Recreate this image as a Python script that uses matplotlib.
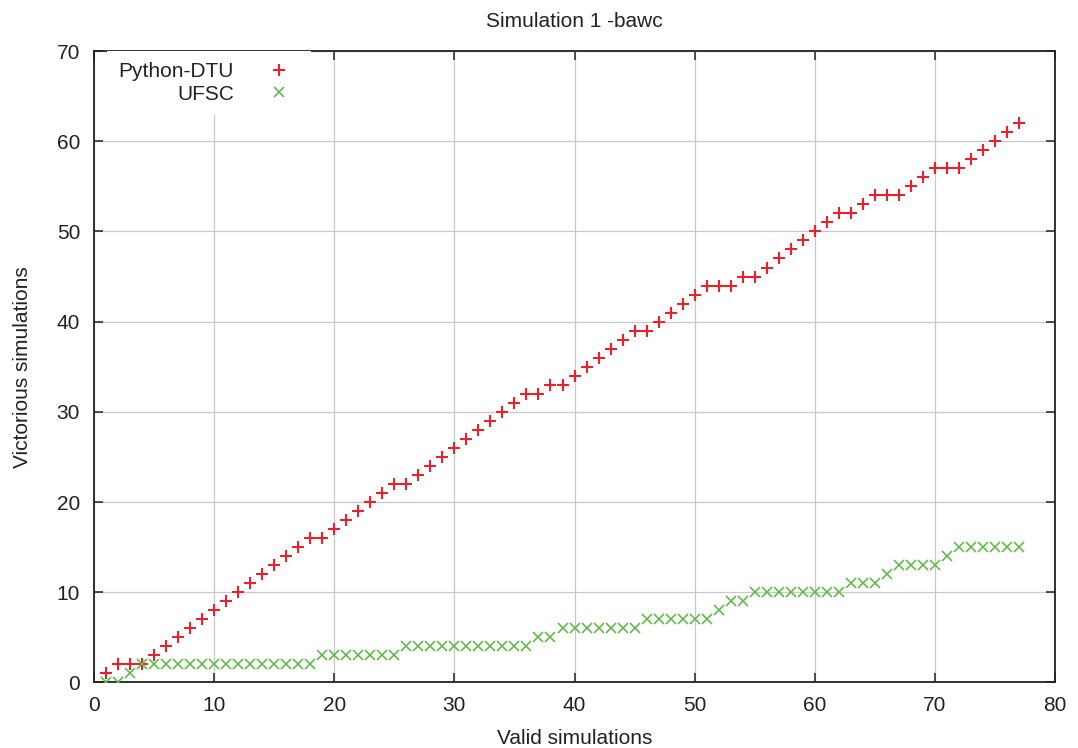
import matplotlib
matplotlib.use("Agg")
import matplotlib.pyplot as plt

plt.rcParams["font.family"] = ["Liberation Sans", "DejaVu Sans"]

# Valid simulations (x) and cumulative wins per team
sim_index = list(range(1, 78))
python_dtu = [1, 2, 2, 2, 3, 4, 5, 6, 7, 8,
              9, 10, 11, 12, 13, 14, 15, 16, 16, 17,
              18, 19, 20, 21, 22, 22, 23, 24, 25, 26,
              27, 28, 29, 30, 31, 32, 32, 33, 33, 34,
              35, 36, 37, 38, 39, 39, 40, 41, 42, 43,
              44, 44, 44, 45, 45, 46, 47, 48, 49, 50,
              51, 52, 52, 53, 54, 54, 54, 55, 56, 57,
              57, 57, 58, 59, 60, 61, 62]
ufsc = [0, 0, 1, 2, 2, 2, 2, 2, 2, 2,
        2, 2, 2, 2, 2, 2, 2, 2, 3, 3,
        3, 3, 3, 3, 3, 4, 4, 4, 4, 4,
        4, 4, 4, 4, 4, 4, 5, 5, 6, 6,
        6, 6, 6, 6, 6, 7, 7, 7, 7, 7,
        7, 8, 9, 9, 10, 10, 10, 10, 10, 10,
        10, 10, 11, 11, 11, 12, 13, 13, 13, 13,
        14, 15, 15, 15, 15, 15, 15]

x_ticks = list(range(0, 81, 10))
y_ticks = list(range(0, 71, 10))

FS = 15

fig = plt.figure(figsize=(10.78, 7.48), dpi=100)
ax = fig.add_axes([0.0872, 0.0876, 0.8915, 0.8442])

ax.plot(sim_index, python_dtu, linestyle="none", marker="+", markersize=8.5,
        markeredgewidth=1.5, color="#e8222c", label="Python-DTU", zorder=3)
ax.plot(sim_index, ufsc, linestyle="none", marker="x", markersize=7.5,
        markeredgewidth=1.15, color="#5dba47", label="UFSC", zorder=3)

ax.set_xlim(0, 80)
ax.set_ylim(0, 70)
ax.set_xticks(x_ticks)
ax.set_yticks(y_ticks)

ax.grid(True, color="#c8c8c8", linewidth=0.9)
ax.set_axisbelow(True)
for sp in ax.spines.values():
    sp.set_color("#222222")
    sp.set_linewidth(1.3)
ax.tick_params(direction="in", length=6.5, width=1.1, color="#222222",
               top=True, right=True, labelsize=FS, pad=10, labelcolor="#222222")

ax.set_xlabel("Valid simulations", fontsize=FS, color="#222222", labelpad=10)
ax.set_ylabel("Victorious simulations", fontsize=FS, color="#222222", labelpad=18)
ax.set_title("Simulation 1 -bawc", fontsize=FS, color="#222222", pad=17)

# gnuplot-style key: text right-aligned, symbol after it
leg = ax.legend(loc="upper right", bbox_to_anchor=(0.226, 1.0), fontsize=FS,
                markerfirst=False, handlelength=2.0, handletextpad=1.16,
                borderpad=0.55, borderaxespad=0, labelspacing=0.15,
                frameon=True, fancybox=False, framealpha=1,
                facecolor="white", edgecolor="none")
for t in leg.get_texts():
    t.set_color("#222222")

fig.savefig("out.png", dpi=100)
